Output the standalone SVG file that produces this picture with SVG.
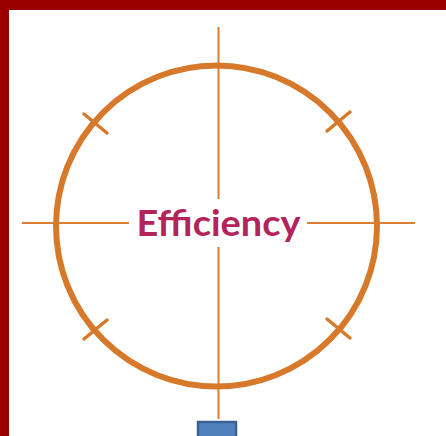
<svg xmlns="http://www.w3.org/2000/svg" width="446" height="436" viewBox="0 0 446 436">
  <style>
    .ring { fill: none; stroke: #D7792A; stroke-width: 6; }
    .axis { stroke: #DA7F33; stroke-width: 2; fill: none; }
    .tick { stroke: #D7792A; stroke-width: 3.5; stroke-linecap: round; fill: none; }
    .label { font-family: "Lato", "Liberation Sans", sans-serif; font-weight: bold; font-size: 36px; fill: #B1255A; }
  </style>
  <rect width="446" height="436" fill="#ffffff"/>
  <!-- frame -->
  <rect x="0" y="0" width="446" height="10" fill="#990000"/>
  <rect x="0" y="0" width="9" height="436" fill="#990000"/>

  <g id="connectors">
    <line class="axis" x1="218.5" y1="27" x2="218.5" y2="419"/>
    <line class="axis" x1="22" y1="223" x2="415" y2="223"/>
  </g>

  <g id="target">
    <circle class="ring" cx="216.5" cy="226" r="160.5"/>
    <line class="tick" x1="84" y1="114" x2="107" y2="133"/>
    <line class="tick" x1="327" y1="131" x2="350" y2="112"/>
    <line class="tick" x1="84" y1="339" x2="107" y2="320"/>
    <line class="tick" x1="327" y1="319" x2="350" y2="338"/>
  </g>

  <g id="efficiency">
    <rect x="129" y="199" width="178" height="48" fill="#ffffff"/>
    <text class="label" x="218.5" y="236" text-anchor="middle" textLength="164" lengthAdjust="spacingAndGlyphs">Efficiency</text>
  </g>

  <g id="base">
    <rect x="198" y="422" width="38" height="20" fill="#4F81BD" stroke="#3A6196" stroke-width="2.5"/>
  </g>
</svg>
